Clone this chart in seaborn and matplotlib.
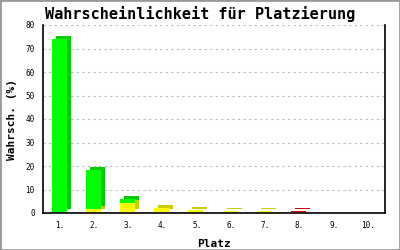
import matplotlib
matplotlib.use("Agg")
import matplotlib.pyplot as plt
import seaborn as sns
import numpy as np
from matplotlib.transforms import ScaledTranslation
from matplotlib.patches import Rectangle

categories = ["1.", "2.", "3.", "4.", "5.", "6.", "7.", "8.", "9.", "10."]
green = [73.5, 16.6, 1.7, 0, 0, 0, 0, 0, 0, 0]
yellow = [0, 1.3, 3.8, 1.7, 0.9, 0.5, 0.3, 0, 0, 0]
red = [0, 0, 0, 0, 0, 0, 0, 0.3, 0, 0]
yticks = [0, 10, 20, 30, 40, 50, 60, 70, 80]

sns.set_style("white")
plt.rcParams["font.family"] = ["DejaVu Sans Mono", "DejaVu Sans"]
plt.rcParams["text.color"] = "black"
plt.rcParams["axes.labelcolor"] = "black"
plt.rcParams["xtick.color"] = "black"
plt.rcParams["ytick.color"] = "black"

dpi = 100
fig = plt.figure(figsize=(4, 2.5), dpi=dpi)
ax = fig.add_axes([43/400, 37/250, 342/400, 188/250])

g = np.array(green); yv = np.array(yellow); r = np.array(red)
layers = [
    (g + yv + r, "#00ff00", "#00cc00"),
    (yv + r, "#ffff00", "#cccc00"),
    (r, "#ee0000", "#cc0000"),
]
width = 0.44
off = ScaledTranslation(4/dpi, 3/dpi, fig.dpi_scale_trans)
lift = ScaledTranslation(0, 1/dpi, fig.dpi_scale_trans)

# depth (back) bars
for vals, front, side in layers:
    n0 = len(ax.patches)
    sns.barplot(x=categories, y=vals, color=side, width=width, ax=ax,
                linewidth=0, saturation=1, order=categories)
    for p in ax.patches[n0:]:
        p.set_transform(ax.transData + off + lift)
        p.set_x(p.get_x() - 0.03)
        p.set_zorder(2)
        p.set_antialiased(False)
# front bars
for vals, front, side in layers:
    n0 = len(ax.patches)
    sns.barplot(x=categories, y=vals, color=front, width=width, ax=ax,
                linewidth=0, saturation=1, order=categories)
    for p in ax.patches[n0:]:
        p.set_transform(ax.transData + lift)
        p.set_x(p.get_x() - 0.03)
        p.set_zorder(3)
        p.set_antialiased(False)

ax.set_xlim(-0.5, 9.5)
ax.set_ylim(0, 80)
ax.set_yticks(yticks)
ax.set_yticklabels([str(v) for v in yticks], fontsize=5.5)
ax.tick_params(axis="y", direction="inout", length=8, width=1, pad=2, colors="black")
ax.tick_params(axis="x", length=0, pad=6, labelsize=5.5, colors="black")
ax.yaxis.grid(True, color="#bbbbbb", linestyle=(0, (2, 3)), linewidth=0.8)
ax.set_axisbelow(True)
for s in ["left", "bottom", "right"]:
    ax.spines[s].set_visible(True)
    ax.spines[s].set_color("black")
    ax.spines[s].set_linewidth(1.2)
    ax.spines[s].set_zorder(1.5)
ax.spines["top"].set_visible(False)

ax.set_xlabel("Platz", fontsize=8, fontweight="bold", labelpad=6, color="black")
ax.set_ylabel("Wahrsch. (%)", fontsize=8, fontweight="bold", labelpad=6, color="black")
fig.text(0.5, 0.945, "Wahrscheinlichkeit für Platzierung", ha="center", va="center",
         fontsize=11, fontweight="bold", color="black")

fig.patches.append(Rectangle((0, 0), 1, 1, transform=fig.transFigure, fill=False,
                             edgecolor="#999999", linewidth=2, zorder=10))
fig.savefig("out.png", dpi=dpi)
